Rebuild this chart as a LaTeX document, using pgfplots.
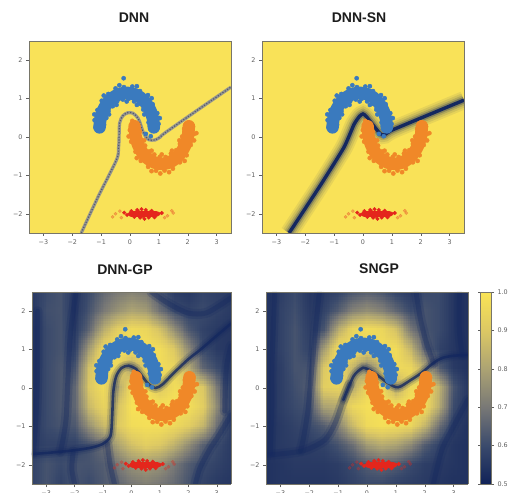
\documentclass[border=0pt]{standalone}
\usepackage{fontspec}
\setmainfont{Liberation Sans}
\newfontfamily\dejavu{DejaVu Sans}
\usepackage{pgfplots}
\usepgfplotslibrary{patchplots}
\pgfplotsset{compat=1.18}
\usepackage{pgfplotstable}

\definecolor{ylw}{RGB}{249,226,88}
\definecolor{navy}{RGB}{20,40,95}
\definecolor{blueC}{RGB}{58,122,190}
\definecolor{orgC}{RGB}{240,136,40}
\definecolor{redC}{RGB}{228,38,28}
\definecolor{tickc}{RGB}{95,95,95}
\definecolor{framec}{RGB}{120,118,105}
\definecolor{bndgray}{RGB}{150,150,142}
\definecolor{bnddark}{RGB}{85,90,108}
\newcommand\tickfont{\dejavu\fontsize{6.4}{7}\selectfont}

\pgfplotstableread{
x y
-1.055 0.25
-1.023 0.483
-0.929 0.70
-0.78 0.886
-0.585 1.029
-0.358 1.119
-0.115 1.15
0.128 1.119
0.355 1.029
0.55 0.886
0.699 0.70
0.793 0.483
0.825 0.25
}\bluearc
\pgfplotstableread{
x y
0.99 0.34
0.644 0.378
0.945 0.62
0.609 0.574
0.786 0.854
0.461 0.713
0.622 1.091
0.338 0.869
0.346 1.196
0.142 0.927
0.081 1.314
-0.047 0.994
-0.211 1.299
-0.249 0.977
-0.501 1.265
-0.445 0.927
-0.752 1.12
-0.598 0.802
-0.979 0.944
-0.746 0.674
-1.128 0.703
-0.822 0.496
-1.226 0.438
-0.901 0.316
-1.196 0.25
-1.051 0.172
0.821 0.172
-0.22 1.53
0.55 0.08
0.72 0.02
0.3 1.05
-0.6 1.0
0.75 0.45
-1.0 0.45
1.032 0.493
0.751 1.01
0.239 1.323
-0.369 1.348
-0.909 1.079
-1.236 0.589
0.496 0.588
0.238 0.835
-0.115 0.925
-0.468 0.835
-0.726 0.588
}\bluepts
\pgfplotstableread{
x y
0.16 0.28
0.192 0.026
0.286 -0.21
0.435 -0.413
0.63 -0.569
0.857 -0.667
1.1 -0.70
1.343 -0.667
1.57 -0.569
1.765 -0.413
1.914 -0.21
2.008 0.026
2.04 0.28
}\orgarc
\pgfplotstableread{
x y
-0.005 0.179
0.341 0.14
0.04 -0.122
0.385 -0.068
0.192 -0.384
0.524 -0.224
0.375 -0.621
0.658 -0.378
0.627 -0.777
0.843 -0.457
0.904 -0.878
1.033 -0.52
1.197 -0.872
1.236 -0.521
1.486 -0.825
1.418 -0.43
1.731 -0.659
1.602 -0.343
1.964 -0.476
1.731 -0.181
2.105 -0.209
1.807 0.012
2.211 0.075
1.877 0.209
2.181 0.28
2.036 0.365
0.164 0.365
0.08 0.42
1.05 -0.95
2.3 0.1
-0.047 0.015
0.234 -0.548
0.746 -0.889
1.354 -0.916
1.894 -0.623
2.221 -0.089
0.489 -0.088
0.747 -0.357
1.1 -0.455
1.453 -0.357
1.711 -0.088
}\orgpts
\pgfplotstableread{
x y
0.45 -2.0
0.3 -1.95
0.6 -2.05
0.2 -2.02
0.7 -1.96
0.1 -1.98
0.8 -2.03
0.0 -2.0
0.9 -1.99
0.35 -2.1
0.55 -1.9
0.25 -1.9
0.65 -2.1
0.15 -2.08
0.75 -1.92
-0.1 -2.03
1.0 -2.0
0.4 -1.88
0.5 -2.13
0.05 -1.93
0.85 -2.09
-0.2 -1.97
1.1 -1.98
0.45 -2.06
}\redpts
\pgfplotstableread{
x y
-0.5 -2.0
-0.35 -1.93
1.3 -2.05
1.5 -1.98
-0.6 -2.08
1.45 -1.92
1.2 -2.1
-0.3 -2.1
}\redfaint

\pgfplotstableread[row sep=\\]{
x y v\\
-3.5 -2.5 0.58\\ -3 -2.5 0.62\\ -2.5 -2.5 0.58\\ -2 -2.5 0.62\\ -1.5 -2.5 0.60\\ -1 -2.5 0.63\\ -0.5 -2.5 0.66\\ 0 -2.5 0.70\\ 0.5 -2.5 0.72\\ 1 -2.5 0.70\\ 1.5 -2.5 0.67\\ 2 -2.5 0.62\\ 2.5 -2.5 0.58\\ 3 -2.5 0.56\\ 3.5 -2.5 0.55\\
-3.5 -2 0.58\\ -3 -2 0.62\\ -2.5 -2 0.60\\ -2 -2 0.62\\ -1.5 -2 0.62\\ -1 -2 0.64\\ -0.5 -2 0.70\\ 0 -2 0.76\\ 0.5 -2 0.78\\ 1 -2 0.76\\ 1.5 -2 0.70\\ 2 -2 0.64\\ 2.5 -2 0.60\\ 3 -2 0.58\\ 3.5 -2 0.56\\
-3.5 -1.5 0.56\\ -3 -1.5 0.58\\ -2.5 -1.5 0.58\\ -2 -1.5 0.58\\ -1.5 -1.5 0.62\\ -1 -1.5 0.68\\ -0.5 -1.5 0.80\\ 0 -1.5 0.88\\ 0.5 -1.5 0.92\\ 1 -1.5 0.90\\ 1.5 -1.5 0.84\\ 2 -1.5 0.75\\ 2.5 -1.5 0.65\\ 3 -1.5 0.60\\ 3.5 -1.5 0.56\\
-3.5 -1 0.55\\ -3 -1 0.60\\ -2.5 -1 0.62\\ -2 -1 0.63\\ -1.5 -1 0.76\\ -1 -1 0.86\\ -0.5 -1 0.90\\ 0 -1 0.97\\ 0.5 -1 0.98\\ 1 -1 0.98\\ 1.5 -1 0.96\\ 2 -1 0.92\\ 2.5 -1 0.85\\ 3 -1 0.68\\ 3.5 -1 0.56\\
-3.5 -0.5 0.54\\ -3 -0.5 0.60\\ -2.5 -0.5 0.63\\ -2 -0.5 0.66\\ -1.5 -0.5 0.86\\ -1 -0.5 0.94\\ -0.5 -0.5 0.88\\ 0 -0.5 0.99\\ 0.5 -0.5 0.99\\ 1 -0.5 0.99\\ 1.5 -0.5 0.99\\ 2 -0.5 0.98\\ 2.5 -0.5 0.92\\ 3 -0.5 0.74\\ 3.5 -0.5 0.58\\
-3.5 0 0.54\\ -3 0 0.60\\ -2.5 0 0.63\\ -2 0 0.66\\ -1.5 0 0.90\\ -1 0 0.97\\ -0.5 0 0.80\\ 0 0 0.97\\ 0.5 0 0.98\\ 1 0 0.90\\ 1.5 0 0.97\\ 2 0 0.95\\ 2.5 0 0.90\\ 3 0 0.70\\ 3.5 0 0.58\\
-3.5 0.5 0.54\\ -3 0.5 0.60\\ -2.5 0.5 0.63\\ -2 0.5 0.62\\ -1.5 0.5 0.88\\ -1 0.5 0.98\\ -0.5 0.5 0.95\\ 0 0.5 0.80\\ 0.5 0.5 0.92\\ 1 0.5 0.97\\ 1.5 0.5 0.95\\ 2 0.5 0.82\\ 2.5 0.5 0.66\\ 3 0.5 0.60\\ 3.5 0.5 0.56\\
-3.5 1 0.54\\ -3 1 0.60\\ -2.5 1 0.62\\ -2 1 0.58\\ -1.5 1 0.78\\ -1 1 0.95\\ -0.5 1 0.98\\ 0 1 0.98\\ 0.5 1 0.98\\ 1 1 0.97\\ 1.5 1 0.90\\ 2 1 0.74\\ 2.5 1 0.60\\ 3 1 0.56\\ 3.5 1 0.55\\
-3.5 1.5 0.54\\ -3 1.5 0.60\\ -2.5 1.5 0.62\\ -2 1.5 0.56\\ -1.5 1.5 0.66\\ -1 1.5 0.82\\ -0.5 1.5 0.92\\ 0 1.5 0.96\\ 0.5 1.5 0.95\\ 1 1.5 0.88\\ 1.5 1.5 0.75\\ 2 1.5 0.63\\ 2.5 1.5 0.58\\ 3 1.5 0.56\\ 3.5 1.5 0.55\\
-3.5 2 0.55\\ -3 2 0.61\\ -2.5 2 0.62\\ -2 2 0.55\\ -1.5 2 0.62\\ -1 2 0.70\\ -0.5 2 0.76\\ 0 2 0.80\\ 0.5 2 0.78\\ 1 2 0.68\\ 1.5 2 0.60\\ 2 2 0.58\\ 2.5 2 0.60\\ 3 2 0.58\\ 3.5 2 0.56\\
-3.5 2.5 0.56\\ -3 2.5 0.60\\ -2.5 2.5 0.62\\ -2 2.5 0.55\\ -1.5 2.5 0.60\\ -1 2.5 0.66\\ -0.5 2.5 0.70\\ 0 2.5 0.72\\ 0.5 2.5 0.70\\ 1 2.5 0.62\\ 1.5 2.5 0.56\\ 2 2.5 0.55\\ 2.5 2.5 0.58\\ 3 2.5 0.57\\ 3.5 2.5 0.56\\
}\gridA

\pgfplotstableread[row sep=\\]{
x y v\\
-3.5 -2.5 0.54\\ -3 -2.5 0.55\\ -2.5 -2.5 0.55\\ -2 -2.5 0.55\\ -1.5 -2.5 0.55\\ -1 -2.5 0.56\\ -0.5 -2.5 0.58\\ 0 -2.5 0.60\\ 0.5 -2.5 0.60\\ 1 -2.5 0.58\\ 1.5 -2.5 0.57\\ 2 -2.5 0.56\\ 2.5 -2.5 0.55\\ 3 -2.5 0.54\\ 3.5 -2.5 0.54\\
-3.5 -2 0.54\\ -3 -2 0.55\\ -2.5 -2 0.56\\ -2 -2 0.56\\ -1.5 -2 0.56\\ -1 -2 0.57\\ -0.5 -2 0.60\\ 0 -2 0.64\\ 0.5 -2 0.66\\ 1 -2 0.64\\ 1.5 -2 0.60\\ 2 -2 0.57\\ 2.5 -2 0.56\\ 3 -2 0.55\\ 3.5 -2 0.54\\
-3.5 -1.5 0.54\\ -3 -1.5 0.56\\ -2.5 -1.5 0.57\\ -2 -1.5 0.57\\ -1.5 -1.5 0.58\\ -1 -1.5 0.62\\ -0.5 -1.5 0.68\\ 0 -1.5 0.78\\ 0.5 -1.5 0.82\\ 1 -1.5 0.80\\ 1.5 -1.5 0.74\\ 2 -1.5 0.64\\ 2.5 -1.5 0.58\\ 3 -1.5 0.55\\ 3.5 -1.5 0.54\\
-3.5 -1 0.54\\ -3 -1 0.56\\ -2.5 -1 0.58\\ -2 -1 0.60\\ -1.5 -1 0.64\\ -1 -1 0.72\\ -0.5 -1 0.86\\ 0 -1 0.96\\ 0.5 -1 0.98\\ 1 -1 0.97\\ 1.5 -1 0.95\\ 2 -1 0.85\\ 2.5 -1 0.68\\ 3 -1 0.57\\ 3.5 -1 0.54\\
-3.5 -0.5 0.54\\ -3 -0.5 0.57\\ -2.5 -0.5 0.60\\ -2 -0.5 0.62\\ -1.5 -0.5 0.80\\ -1 -0.5 0.82\\ -0.5 -0.5 0.95\\ 0 -0.5 0.98\\ 0.5 -0.5 0.99\\ 1 -0.5 0.99\\ 1.5 -0.5 0.99\\ 2 -0.5 0.97\\ 2.5 -0.5 0.82\\ 3 -0.5 0.60\\ 3.5 -0.5 0.55\\
-3.5 0 0.54\\ -3 0 0.57\\ -2.5 0 0.61\\ -2 0 0.64\\ -1.5 0 0.92\\ -1 0 0.94\\ -0.5 0 0.82\\ 0 0 0.95\\ 0.5 0 0.97\\ 1 0 0.80\\ 1.5 0 0.96\\ 2 0 0.97\\ 2.5 0 0.84\\ 3 0 0.62\\ 3.5 0 0.55\\
-3.5 0.5 0.54\\ -3 0.5 0.57\\ -2.5 0.5 0.62\\ -2 0.5 0.62\\ -1.5 0.5 0.90\\ -1 0.5 0.98\\ -0.5 0.5 0.85\\ 0 0.5 0.72\\ 0.5 0.5 0.85\\ 1 0.5 0.96\\ 1.5 0.5 0.95\\ 2 0.5 0.82\\ 2.5 0.5 0.64\\ 3 0.5 0.56\\ 3.5 0.5 0.54\\
-3.5 1 0.54\\ -3 1 0.58\\ -2.5 1 0.62\\ -2 1 0.58\\ -1.5 1 0.78\\ -1 1 0.97\\ -0.5 1 0.97\\ 0 1 0.94\\ 0.5 1 0.97\\ 1 1 0.97\\ 1.5 1 0.85\\ 2 1 0.66\\ 2.5 1 0.58\\ 3 1 0.55\\ 3.5 1 0.54\\
-3.5 1.5 0.54\\ -3 1.5 0.58\\ -2.5 1.5 0.62\\ -2 1.5 0.57\\ -1.5 1.5 0.62\\ -1 1.5 0.82\\ -0.5 1.5 0.94\\ 0 1.5 0.97\\ 0.5 1.5 0.95\\ 1 1.5 0.88\\ 1.5 1.5 0.70\\ 2 1.5 0.62\\ 2.5 1.5 0.60\\ 3 1.5 0.55\\ 3.5 1.5 0.54\\
-3.5 2 0.54\\ -3 2 0.58\\ -2.5 2 0.61\\ -2 2 0.56\\ -1.5 2 0.58\\ -1 2 0.64\\ -0.5 2 0.72\\ 0 2 0.75\\ 0.5 2 0.72\\ 1 2 0.66\\ 1.5 2 0.60\\ 2 2 0.62\\ 2.5 2 0.60\\ 3 2 0.55\\ 3.5 2 0.54\\
-3.5 2.5 0.54\\ -3 2.5 0.57\\ -2.5 2.5 0.60\\ -2 2.5 0.55\\ -1.5 2.5 0.56\\ -1 2.5 0.58\\ -0.5 2.5 0.62\\ 0 2.5 0.64\\ 0.5 2.5 0.62\\ 1 2.5 0.58\\ 1.5 2.5 0.56\\ 2 2.5 0.60\\ 2.5 2.5 0.60\\ 3 2.5 0.55\\ 3.5 2.5 0.54\\
}\gridB

\pgfplotsset{
  colormap={civ}{rgb255=(16,34,88) rgb255=(58,74,108) rgb255=(120,120,118) rgb255=(172,163,115) rgb255=(220,200,100) rgb255=(250,228,85)},
  panel/.style={
    scale only axis, height=192pt,
    xmin=-3.5, xmax=3.5, ymin=-2.5, ymax=2.5,
    xtick={-3,-2,-1,0,1,2,3}, xticklabels={−3,−2,−1,0,1,2,3},
    ytick={-2,-1,0,1,2}, yticklabels={−2,−1,0,1,2},
    tick label style={font=\tickfont, text=tickc},
    tick align=outside, major tick length=3pt, tick pos=left,
    tick style={tickc, line width=0.4pt},
    axis line style={framec, line width=0.6pt},
    axis on top, anchor=south west,
  },
}

\newcommand{\scatterdata}{%
  \addplot[blueC, line width=12.5pt, line cap=round, smooth] table {\bluearc};
  \addplot[only marks, mark=*, mark size=2.1pt, color=blueC] table {\bluepts};
  \addplot[orgC, line width=12.5pt, line cap=round, smooth] table {\orgarc};
  \addplot[only marks, mark=*, mark size=2.1pt, color=orgC] table {\orgpts};
  \addplot[only marks, mark=*, mark size=1.6pt, color=redC, opacity=0.3] table {\redfaint};
  \addplot[redC, line width=6.5pt, line cap=round] coordinates {(0.05,-2.0) (0.9,-2.0)};
  \addplot[only marks, mark=*, mark size=1.8pt, color=redC] table {\redpts};
}
\newcommand{\softline}[1]{%
  \addplot[navy, line width=10pt, opacity=0.15, smooth, line cap=round] coordinates {#1};
  \addplot[navy, line width=6pt, opacity=0.25, smooth, line cap=round] coordinates {#1};
  \addplot[navy, line width=2.6pt, opacity=0.8, smooth, line cap=round] coordinates {#1};
}
\newcommand{\weakline}[1]{%
  \addplot[navy, line width=10pt, opacity=0.2, smooth, line cap=round] coordinates {#1};
  \addplot[navy, line width=5pt, opacity=0.35, smooth, line cap=round] coordinates {#1};
}
\newcommand{\snline}[1]{%
  \addplot[navy, line width=18pt, opacity=0.08, smooth, tension=0.3] coordinates {#1};
  \addplot[navy, line width=14pt, opacity=0.10, smooth, tension=0.3] coordinates {#1};
  \addplot[navy, line width=10pt, opacity=0.16, smooth, tension=0.3] coordinates {#1};
  \addplot[navy, line width=6.5pt, opacity=0.3, smooth, tension=0.3] coordinates {#1};
  \addplot[navy, line width=3.4pt, smooth, tension=0.3] coordinates {#1};
}

\begin{document}
\begin{tikzpicture}
\path[use as bounding box] (0,0) rectangle (508pt,492pt);

% ---------- DNN ----------
\begin{axis}[panel, width=202pt, at={(29pt,259pt)}, axis background/.style={fill=ylw}]
  \addplot[bndgray, line width=3.2pt, smooth, tension=0.5] coordinates {(-1.69,-2.5) (-1.1,-1.55) (-0.47,-0.6) (-0.4,-0.3) (-0.38,-0.08) (-0.36,0.36) (-0.25,0.55) (-0.08,0.63) (0.1,0.62) (0.28,0.49) (0.38,0.3) (0.45,0.14) (0.55,0.0) (0.65,-0.07) (0.86,-0.08) (1.05,0.0) (1.2,0.1) (2.3,0.68) (3.5,1.3)};
  \addplot[bnddark, line width=1.2pt, dash pattern=on 1.2pt off 1.6pt, smooth, tension=0.5] coordinates {(-1.69,-2.5) (-1.1,-1.55) (-0.47,-0.6) (-0.4,-0.3) (-0.38,-0.08) (-0.36,0.36) (-0.25,0.55) (-0.08,0.63) (0.1,0.62) (0.28,0.49) (0.38,0.3) (0.45,0.14) (0.55,0.0) (0.65,-0.07) (0.86,-0.08) (1.05,0.0) (1.2,0.1) (2.3,0.68) (3.5,1.3)};
  \scatterdata
\end{axis}

% ---------- DNN-SN ----------
\begin{axis}[panel, width=202pt, at={(262pt,259pt)}, axis background/.style={fill=ylw}]
  \snline{(-2.56,-2.5) (-1.47,-1.25) (-0.66,-0.27) (-0.31,0.33) (-0.12,0.54) (0.0,0.6) (0.12,0.53) (0.6,0.08) (0.75,0.06) (1.07,0.2) (3.5,0.96)}
  \scatterdata
\end{axis}

% ---------- DNN-GP ----------
\begin{axis}[panel, width=199pt, at={(32pt,8pt)}, view={0}{90}, ztick=\empty,
  colormap name=civ, point meta min=0.5, point meta max=1]
  \addplot3[surf, shader=interp, patch type=bilinear, mesh/cols=15, point meta=explicit] table[x=x, y=y, z expr=0, meta=v] {\gridA};
  \softline{(-3.5,-1.72) (-2.8,-1.68) (-2.0,-1.62) (-1.4,-1.55) (-1.0,-1.45) (-0.74,-1.25) (-0.68,-0.75) (-0.64,-0.1) (-0.54,0.3) (-0.35,0.52) (-0.1,0.58) (0.15,0.5) (0.35,0.33) (0.6,0.1) (0.85,0.0) (1.1,0.1) (1.47,0.38) (2.0,0.75) (2.41,0.99) (2.9,1.3) (3.5,1.68)}
  \weakline{(-1.95,2.5) (-2.05,2.0) (-2.15,1.4) (-2.2,0.8) (-2.25,0.0) (-2.3,-0.8) (-2.4,-1.3) (-2.5,-1.66)}
  \weakline{(-3.3,2.0) (-3.3,1.0) (-3.32,0.0) (-3.38,-1.0) (-3.45,-1.7)}
  \weakline{(0.7,2.5) (1.3,2.2) (2.0,1.95) (2.6,1.95) (3.1,2.15) (3.5,2.35)}
  \weakline{(3.5,1.1) (3.35,0.6) (3.3,0.0) (3.28,-0.6)}
  \weakline{(3.5,-0.7) (3.1,-1.2) (2.75,-1.6) (2.4,-2.1) (2.25,-2.5)}
  \weakline{(-2.05,-1.65) (-2.1,-2.1) (-2.0,-2.5)}
  \weakline{(-0.85,-1.45) (-0.75,-2.0) (-0.6,-2.5)}
  \scatterdata
\end{axis}

% ---------- SNGP ----------
\begin{axis}[panel, width=202pt, at={(266pt,8pt)}, view={0}{90}, ztick=\empty,
  colormap name=civ, point meta min=0.5, point meta max=1,
  colorbar,
  colorbar style={width=11pt, at={(parent axis.north east)}, anchor=north west, xshift=4pt,
    ytick={0.5,0.6,0.7,0.8,0.9,1.0}, yticklabels={0.5,0.6,0.7,0.8,0.9,1.0},
    yticklabel style={font=\tickfont, text=tickc},
    tick align=outside, major tick length=2.5pt, tick style={tickc, line width=0.4pt},
    axis line style={framec, line width=0.5pt}}]
  \addplot3[surf, shader=interp, patch type=bilinear, mesh/cols=15, point meta=explicit] table[x=x, y=y, z expr=0, meta=v] {\gridB};
  \weakline{(-3.5,-1.75) (-2.8,-1.7) (-2.15,-1.62) (-1.46,-1.35) (-1.11,-0.92) (-0.82,-0.31) (-0.6,0.1)}
  \softline{(-0.82,-0.31) (-0.47,0.3) (-0.2,0.5) (-0.07,0.52) (0.28,0.38) (0.74,0.12) (1.08,0.02) (1.5,0.2) (1.9,0.4) (2.3,0.65) (2.6,0.78) (3.0,0.84) (3.5,0.86)}
  \weakline{(-1.65,2.5) (-1.75,1.8) (-1.85,1.0) (-1.95,0.2) (-2.05,-0.6) (-2.2,-1.3) (-2.3,-1.63)}
  \weakline{(-3.2,2.5) (-3.25,1.5) (-3.3,0.5) (-3.3,-0.5) (-3.35,-1.7)}
  \weakline{(1.7,2.5) (1.85,1.8) (2.05,1.2) (2.3,0.65)}
  \weakline{(3.2,2.5) (3.2,1.5) (3.3,0.86)}
  \weakline{(3.5,-0.3) (3.0,-1.0) (2.6,-1.6) (2.3,-2.5)}
  \scatterdata
\end{axis}

% ---------- titles ----------
\node[font=\bfseries\fontsize{14}{16}\selectfont, text={rgb,255:red,28;green,28;blue,28}] at (134pt,474pt) {DNN};
\node[font=\bfseries\fontsize{14}{16}\selectfont, text={rgb,255:red,28;green,28;blue,28}] at (359pt,474pt) {DNN-SN};
\node[font=\bfseries\fontsize{14}{16}\selectfont, text={rgb,255:red,28;green,28;blue,28}] at (125pt,222pt) {DNN-GP};
\node[font=\bfseries\fontsize{14}{16}\selectfont, text={rgb,255:red,28;green,28;blue,28}] at (379pt,223pt) {SNGP};
\end{tikzpicture}
\end{document}
